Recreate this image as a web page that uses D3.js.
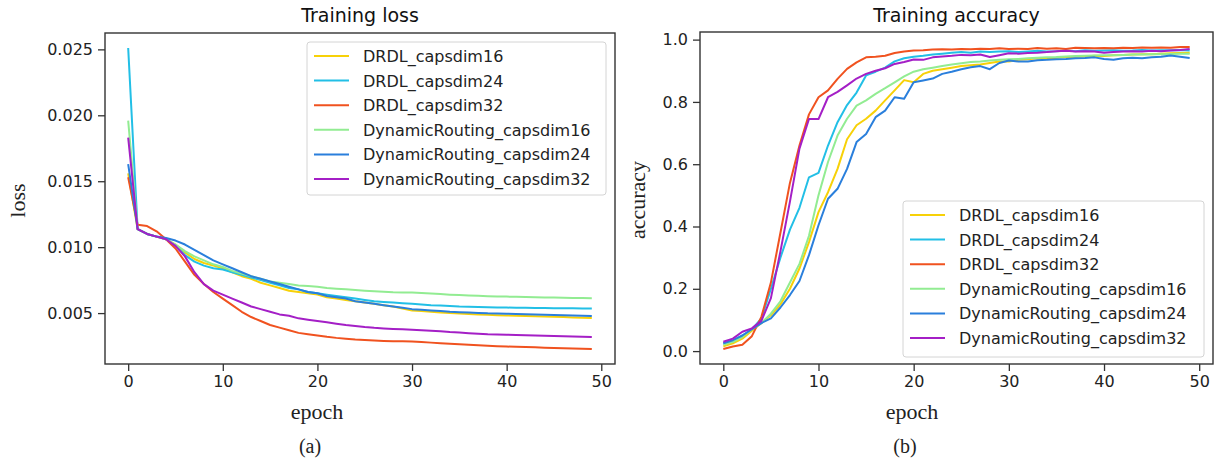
<!DOCTYPE html>
<html>
<head>
<meta charset="utf-8">
<script src="https://cdn.jsdelivr.net/npm/d3@7"></script>
<style>
  body { margin: 0; background: #fff; }
  svg { display: block; }
  .tick text { font-family: "DejaVu Sans", sans-serif; font-size: 16px; fill: #222; }
  .tick line, .domain { stroke: #333; }
</style>
</head>
<body>
<svg id="chart" width="1216" height="462"></svg>
<script>
// series names, same order for both panels
const seriesNames = [
    "DRDL_capsdim16", "DRDL_capsdim24", "DRDL_capsdim32",
    "DynamicRouting_capsdim16", "DynamicRouting_capsdim24", "DynamicRouting_capsdim32"
];
const seriesColors = ["#f7d108", "#22bfe6", "#f0521f", "#92ec92", "#2a7fdc", "#a41fc6"];

const epochTicks = [0, 10, 20, 30, 40, 50];
const lossTicks = [0.005, 0.010, 0.015, 0.020, 0.025];
const accTicks = [0.0, 0.2, 0.4, 0.6, 0.8, 1.0];

// training loss, epochs 0..49
const lossDRDL16 = [0.0156, 0.01136, 0.0110, 0.0108, 0.0106, 0.0102, 0.0096, 0.0091, 0.0088, 0.0086,
    0.0084, 0.0081, 0.0078, 0.0076, 0.0073, 0.0071, 0.0069, 0.0067, 0.0066, 0.0065,
    0.0064, 0.0062, 0.0061, 0.0060, 0.0059, 0.0058, 0.0057, 0.0056, 0.0055, 0.00535,
    0.0052, 0.00515, 0.0051, 0.00505, 0.0050, 0.00497, 0.00494, 0.0049, 0.00487, 0.00484,
    0.00482, 0.0048, 0.00478, 0.00476, 0.00474, 0.00472, 0.0047, 0.00467, 0.00464, 0.00462];
const lossDRDL24 = [0.0251, 0.01136, 0.0110, 0.0108, 0.0106, 0.0101, 0.0094, 0.0089, 0.0086, 0.0084,
    0.0083, 0.0081, 0.0079, 0.0077, 0.0075, 0.0073, 0.0071, 0.0069, 0.0068, 0.0066,
    0.0065, 0.0064, 0.0063, 0.0062, 0.0061, 0.0060, 0.0059, 0.00585, 0.0058, 0.00575,
    0.0057, 0.00565, 0.0056, 0.00557, 0.00554, 0.0055, 0.00548, 0.00546, 0.00544, 0.00543,
    0.00542, 0.0054, 0.0054, 0.00539, 0.00538, 0.00537, 0.00536, 0.00536, 0.00535, 0.00535];
const lossDRDL32 = [0.0153, 0.0117, 0.0116, 0.0112, 0.0106, 0.0099, 0.0089, 0.0079, 0.0072, 0.0066,
    0.0061, 0.0056, 0.0051, 0.0047, 0.0044, 0.0041, 0.0039, 0.0037, 0.0035, 0.0034,
    0.0033, 0.0032, 0.00312, 0.00306, 0.0030, 0.00296, 0.00292, 0.00289, 0.00287, 0.00286,
    0.00284, 0.0028, 0.00276, 0.00272, 0.00268, 0.00264, 0.0026, 0.00256, 0.00252, 0.00249,
    0.00246, 0.00244, 0.00242, 0.0024, 0.00238, 0.00236, 0.00234, 0.00232, 0.0023, 0.00228];
const lossDR16 = [0.0196, 0.01136, 0.0110, 0.0108, 0.0106, 0.0102, 0.0097, 0.0093, 0.0090, 0.0087,
    0.0085, 0.0082, 0.0080, 0.0078, 0.0076, 0.0074, 0.0073, 0.0072, 0.0071, 0.00705,
    0.0070, 0.0069, 0.00685, 0.0068, 0.00675, 0.0067, 0.00666, 0.00662, 0.00658, 0.00657,
    0.00656, 0.00652, 0.00648, 0.00644, 0.0064, 0.00637, 0.00634, 0.00631, 0.00628, 0.00626,
    0.00625, 0.00623, 0.00622, 0.0062, 0.00619, 0.00618, 0.00616, 0.00615, 0.00614, 0.00613];
const lossDR24 = [0.0163, 0.01136, 0.0110, 0.0108, 0.0107, 0.0105, 0.0102, 0.0098, 0.0094, 0.0090,
    0.0087, 0.0084, 0.0081, 0.0078, 0.0076, 0.0074, 0.0072, 0.0070, 0.0068, 0.0066,
    0.0065, 0.0063, 0.0062, 0.0061, 0.0059, 0.0058, 0.0057, 0.0056, 0.0055, 0.0054,
    0.0053, 0.00525, 0.0052, 0.00515, 0.0051, 0.00507, 0.00504, 0.00501, 0.00498, 0.00497,
    0.00495, 0.00493, 0.00491, 0.00489, 0.00487, 0.00485, 0.00483, 0.00481, 0.00479, 0.00477];
const lossDR32 = [0.0183, 0.01136, 0.0110, 0.0108, 0.0106, 0.0101, 0.0093, 0.0081, 0.0072, 0.0067,
    0.0064, 0.0061, 0.0058, 0.0055, 0.0053, 0.0051, 0.0049, 0.0048, 0.0046, 0.0045,
    0.0044, 0.0043, 0.0042, 0.0041, 0.00402, 0.00394, 0.00388, 0.00384, 0.0038, 0.00377,
    0.00374, 0.0037, 0.00366, 0.00362, 0.00356, 0.00352, 0.00348, 0.00344, 0.0034, 0.00338,
    0.00336, 0.00334, 0.00332, 0.0033, 0.00328, 0.00326, 0.00324, 0.00322, 0.0032, 0.00319];

// training accuracy, epochs 0..49
const accDRDL16 = [0.015, 0.025, 0.04, 0.065, 0.09, 0.115, 0.15, 0.2, 0.265, 0.35,
    0.446, 0.51, 0.585, 0.68, 0.725, 0.746, 0.772, 0.805, 0.837, 0.87,
    0.863, 0.89, 0.9, 0.905, 0.91, 0.915, 0.918, 0.92, 0.925, 0.93,
    0.93, 0.935, 0.937, 0.94, 0.938, 0.942, 0.944, 0.945, 0.946, 0.948,
    0.947, 0.95, 0.951, 0.952, 0.953, 0.953, 0.955, 0.956, 0.957, 0.958];
const accDRDL24 = [0.025, 0.03, 0.05, 0.07, 0.105, 0.2, 0.3, 0.39, 0.46, 0.558,
    0.572, 0.66, 0.735, 0.79, 0.83, 0.885, 0.897, 0.91, 0.93, 0.94,
    0.945, 0.948, 0.952, 0.955, 0.958, 0.96, 0.958, 0.962, 0.96, 0.962,
    0.963, 0.96, 0.962, 0.964, 0.962, 0.963, 0.965, 0.963, 0.966, 0.964,
    0.965, 0.966, 0.964, 0.965, 0.967, 0.965, 0.966, 0.966, 0.967, 0.965];
const accDRDL32 = [0.007, 0.015, 0.02, 0.048, 0.11, 0.22, 0.38, 0.54, 0.66, 0.76,
    0.815, 0.837, 0.874, 0.906, 0.927, 0.943, 0.945, 0.948, 0.957, 0.962,
    0.965, 0.966, 0.968, 0.969, 0.968, 0.97, 0.969, 0.971, 0.97, 0.972,
    0.97, 0.971, 0.97, 0.973, 0.971, 0.972, 0.97, 0.974, 0.973, 0.972,
    0.973, 0.972, 0.974, 0.973, 0.975, 0.974, 0.975, 0.974, 0.976, 0.976];
const accDR16 = [0.02, 0.03, 0.045, 0.07, 0.09, 0.12, 0.16, 0.22, 0.28, 0.37,
    0.5, 0.607, 0.692, 0.746, 0.788, 0.805, 0.826, 0.844, 0.863, 0.882,
    0.897, 0.905, 0.91, 0.915, 0.92, 0.924, 0.928, 0.93, 0.933, 0.935,
    0.937, 0.938, 0.94, 0.942, 0.943, 0.944, 0.946, 0.947, 0.948, 0.949,
    0.95, 0.95, 0.951, 0.952, 0.952, 0.953, 0.953, 0.954, 0.955, 0.955];
const accDR24 = [0.025, 0.035, 0.05, 0.07, 0.09, 0.105, 0.14, 0.18, 0.225, 0.308,
    0.404, 0.489, 0.521, 0.585, 0.671, 0.697, 0.751, 0.772, 0.815, 0.81,
    0.863, 0.869, 0.875, 0.89, 0.897, 0.905, 0.911, 0.915, 0.905, 0.925,
    0.933, 0.93, 0.93, 0.934, 0.935, 0.937, 0.938, 0.94, 0.941, 0.943,
    0.938, 0.935, 0.94, 0.942, 0.94, 0.943, 0.945, 0.949, 0.945, 0.941];
const accDR32 = [0.03, 0.04, 0.062, 0.073, 0.097, 0.17, 0.32, 0.48, 0.65, 0.745,
    0.745, 0.815, 0.832, 0.853, 0.875, 0.89, 0.9, 0.908, 0.922, 0.928,
    0.936, 0.935, 0.943, 0.946, 0.948, 0.951, 0.95, 0.952, 0.944, 0.95,
    0.956, 0.955, 0.957, 0.958, 0.96, 0.963, 0.964, 0.962, 0.963, 0.962,
    0.958, 0.96, 0.962, 0.963, 0.962, 0.964, 0.963, 0.965, 0.967, 0.97];

const lossSeries = [lossDRDL16, lossDRDL24, lossDRDL32, lossDR16, lossDR24, lossDR32];
const accSeries = [accDRDL16, accDRDL24, accDRDL32, accDR16, accDR24, accDR32];

const svg = d3.select("#chart");

function padded(values) {
    const [lo, hi] = d3.extent(values);
    const m = (hi - lo) * 0.05;
    return [lo - m, hi + m];
}

function panel(opts) {
    const { box, series, yTicks, yFormat, title, ylabel, ylabelX, xlabelX, tag, legend } = opts;
    const epochs = d3.range(series[0].length);

    const x = d3.scaleLinear().domain(padded(epochs)).range([box.left, box.right]);
    const y = d3.scaleLinear().domain(padded(series.flat())).range([box.bottom, box.top]);

    const g = svg.append("g");

    // lines
    const line = d3.line().x((d, i) => x(i)).y(d => y(d));
    series.forEach((s, k) => {
        g.append("path")
            .datum(s)
            .attr("d", line)
            .attr("fill", "none")
            .attr("stroke", seriesColors[k])
            .attr("stroke-width", 2)
            .attr("stroke-linejoin", "round");
    });

    // axes
    const xAxis = g.append("g")
        .attr("transform", `translate(0,${box.bottom})`)
        .call(d3.axisBottom(x).tickValues(epochTicks).tickSize(7).tickPadding(5).tickFormat(d3.format("d")));
    const yAxis = g.append("g")
        .attr("transform", `translate(${box.left},0)`)
        .call(d3.axisLeft(y).tickValues(yTicks).tickSize(7).tickPadding(5).tickFormat(yFormat));
    [xAxis, yAxis].forEach(a => {
        a.select(".domain").remove();
        a.selectAll(".tick line").attr("stroke-width", 1.3);
    });

    // frame
    g.append("rect")
        .attr("x", box.left).attr("y", box.top)
        .attr("width", box.right - box.left).attr("height", box.bottom - box.top)
        .attr("fill", "none").attr("stroke", "#333").attr("stroke-width", 1.4);

    // title
    g.append("text")
        .attr("x", (box.left + box.right) / 2).attr("y", 22)
        .attr("text-anchor", "middle")
        .attr("font-family", "DejaVu Sans, sans-serif").attr("font-size", 19)
        .attr("fill", "#111")
        .text(title);

    // axis labels (serif)
    g.append("text")
        .attr("transform", `translate(${ylabelX},${(box.top + box.bottom) / 2 + 2}) rotate(-90)`)
        .attr("text-anchor", "middle")
        .attr("font-family", "Liberation Serif, Times New Roman, serif").attr("font-size", 22)
        .attr("fill", "#222")
        .text(ylabel);
    g.append("text")
        .attr("x", xlabelX).attr("y", 419)
        .attr("text-anchor", "middle")
        .attr("font-family", "Liberation Serif, Times New Roman, serif").attr("font-size", 22)
        .attr("fill", "#222")
        .text("epoch");
    g.append("text")
        .attr("x", xlabelX - 7).attr("y", 453)
        .attr("text-anchor", "middle")
        .attr("font-family", "Liberation Serif, Times New Roman, serif").attr("font-size", 20)
        .attr("fill", "#222")
        .text(tag);

    // legend
    const lg = g.append("g");
    lg.append("rect")
        .attr("x", legend.x).attr("y", legend.y)
        .attr("width", legend.w).attr("height", legend.h)
        .attr("rx", 3)
        .attr("fill", "#fff").attr("fill-opacity", 0.8)
        .attr("stroke", "#d4d4d4").attr("stroke-width", 1);
    seriesNames.forEach((name, k) => {
        const ry = legend.y + 14 + k * 24.6;
        lg.append("line")
            .attr("x1", legend.x + 7).attr("x2", legend.x + 42)
            .attr("y1", ry).attr("y2", ry)
            .attr("stroke", seriesColors[k]).attr("stroke-width", 2);
        lg.append("text")
            .attr("x", legend.x + 56).attr("y", ry + 6)
            .attr("font-family", "DejaVu Sans, sans-serif").attr("font-size", 16)
            .attr("fill", "#222")
            .text(name);
    });
}

panel({
    box: { left: 105, right: 615, top: 33, bottom: 364 },
    series: lossSeries,
    yTicks: lossTicks,
    yFormat: d3.format(".3f"),
    title: "Training loss",
    ylabel: "loss",
    ylabelX: 25,
    xlabelX: 317,
    tag: "(a)",
    legend: { x: 307, y: 42, w: 299, h: 153 }
});

panel({
    box: { left: 700, right: 1213, top: 32, bottom: 364 },
    series: accSeries,
    yTicks: accTicks,
    yFormat: d3.format(".1f"),
    title: "Training accuracy",
    ylabel: "accuracy",
    ylabelX: 645,
    xlabelX: 912,
    tag: "(b)",
    legend: { x: 903, y: 201, w: 301, h: 156 }
});
</script>
</body>
</html>
